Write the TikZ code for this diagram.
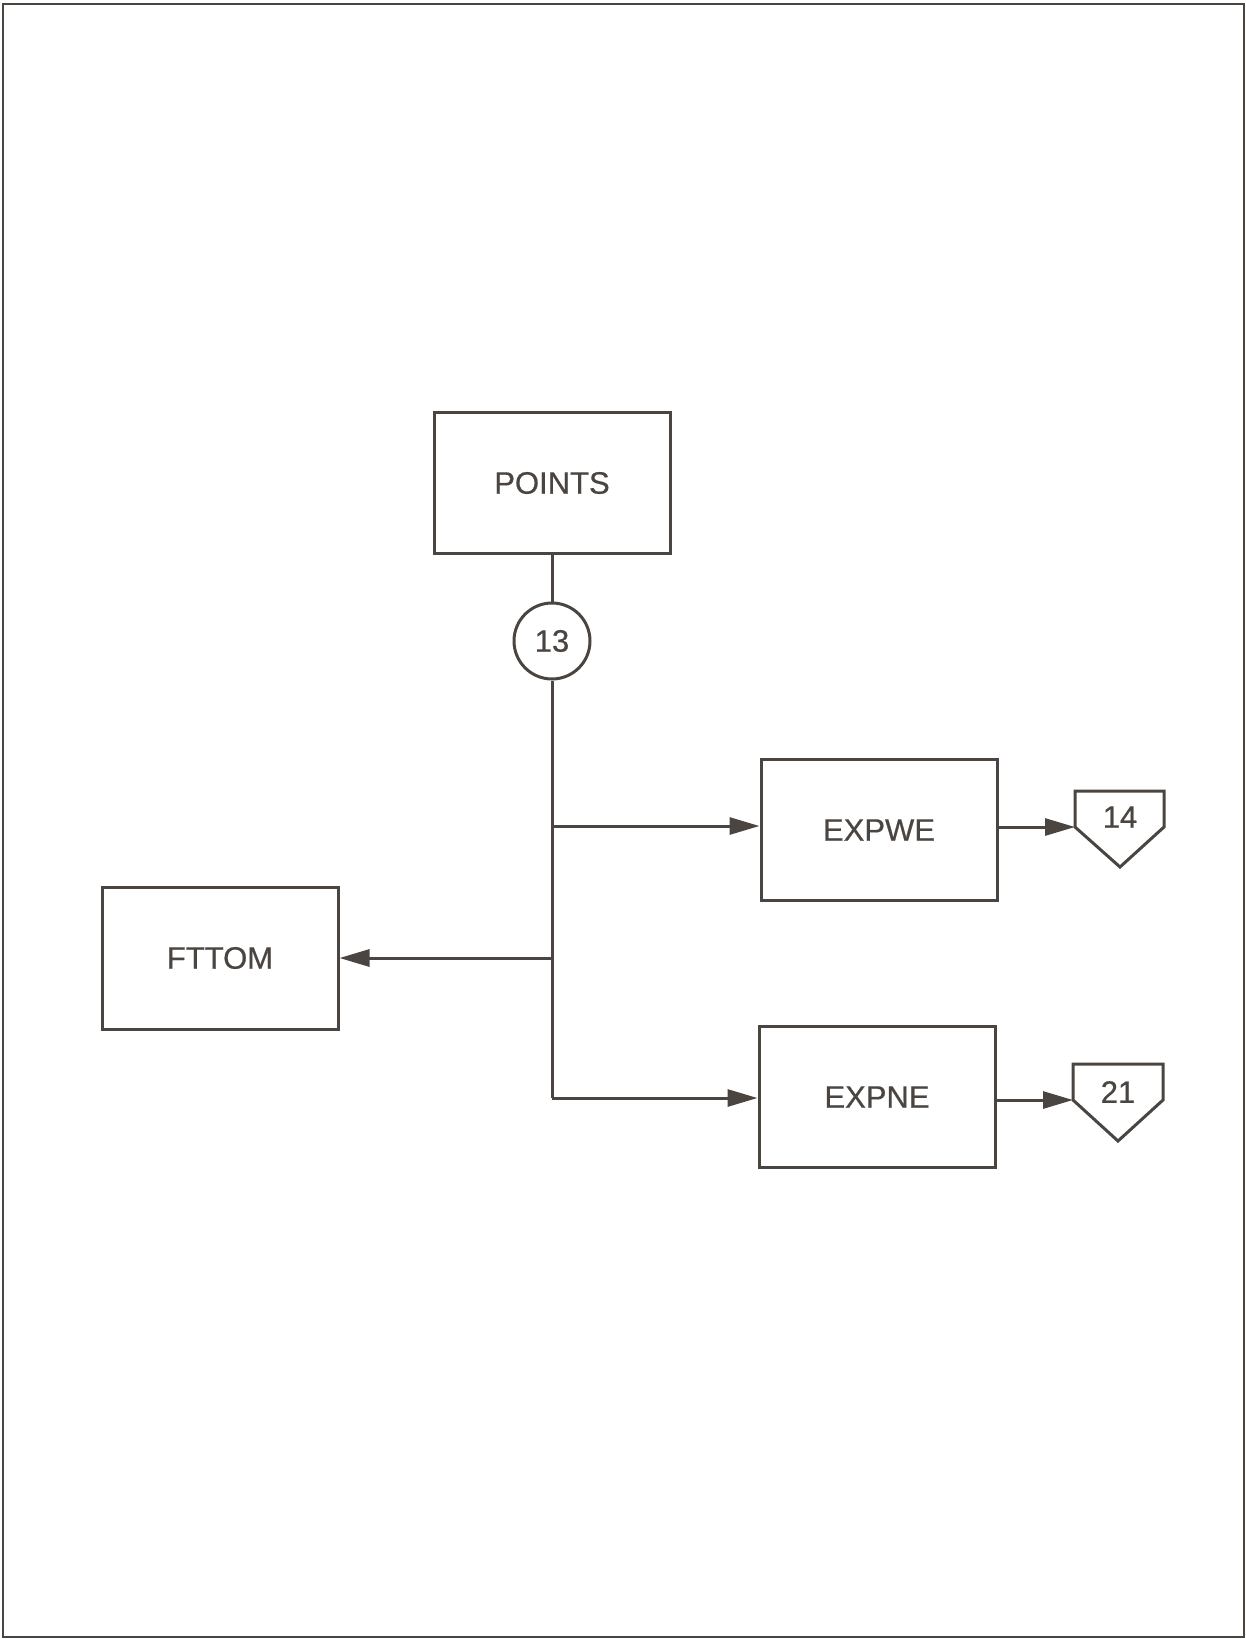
\documentclass[tikz,border=0pt]{standalone}
\usepackage{fontspec}
\setmainfont{Liberation Sans}[FakeBold=0.6]
\usetikzlibrary{arrows.meta}
\definecolor{ink}{HTML}{4A4541}
\tikzset{
  box/.style={draw=ink, line width=3pt, minimum width=236pt, minimum height=141pt, inner sep=0pt, text=ink, font=\fontsize{31}{31}\selectfont},
  lbl/.style={text=ink, font=\fontsize{31}{31}\selectfont, inner sep=0pt},
  wire/.style={draw=ink, line width=3pt},
  arr/.style={wire, -{Triangle[length=30pt,width=17pt]}},
  offp/.style={draw=ink, line width=3pt, line join=miter}
}
\begin{document}
\begin{tikzpicture}[x=1pt,y=-1pt]
\useasboundingbox (0,0) rectangle (1246,1639);
\draw[ink, line width=2.5pt] (3,4) rectangle (1244,1637);
% boxes
\node[box] (points) at (552,483) {POINTS};
\node[box, minimum height=142pt] (fttom) at (220,958) {FTTOM};
\node[box] (expwe) at (879,830) {EXPWE};
\node[box] (expne) at (877,1097) {EXPNE};
% connector circle
\node[draw=ink, line width=3pt, circle, minimum size=76pt, inner sep=0pt, lbl] (c13) at (552,641) {13};
% off-page connectors
\coordinate (o14) at (1075,827);
\draw[offp] (1075,827) -- (1075,791) -- (1164,791) -- (1164,827) -- (1120,867) -- cycle;
\node[lbl] (t14) at (1120,817) {14};
\coordinate (o21) at (1073,1100);
\draw[offp] (1073,1100) -- (1073,1064) -- (1163,1064) -- (1163,1100) -- (1118,1141) -- cycle;
\node[lbl] (t21) at (1118,1092) {21};
% junctions
\coordinate (j1) at (552,826);
\coordinate (j2) at (552,958);
\coordinate (j3) at (552,1098);
% wires
\draw[wire] (points.south) -- (c13.north);
\draw[wire] (c13.south) -- (j3);
\draw[arr] (j1) -- (expwe.west |- j1);
\draw[arr] (j2) -- (fttom.east |- j2);
\draw[arr] (j3) -- (expne.west |- j3);
\draw[arr] (expwe.east |- o14) -- (o14);
\draw[arr] (expne.east |- o21) -- (o21);
\end{tikzpicture}
\end{document}
